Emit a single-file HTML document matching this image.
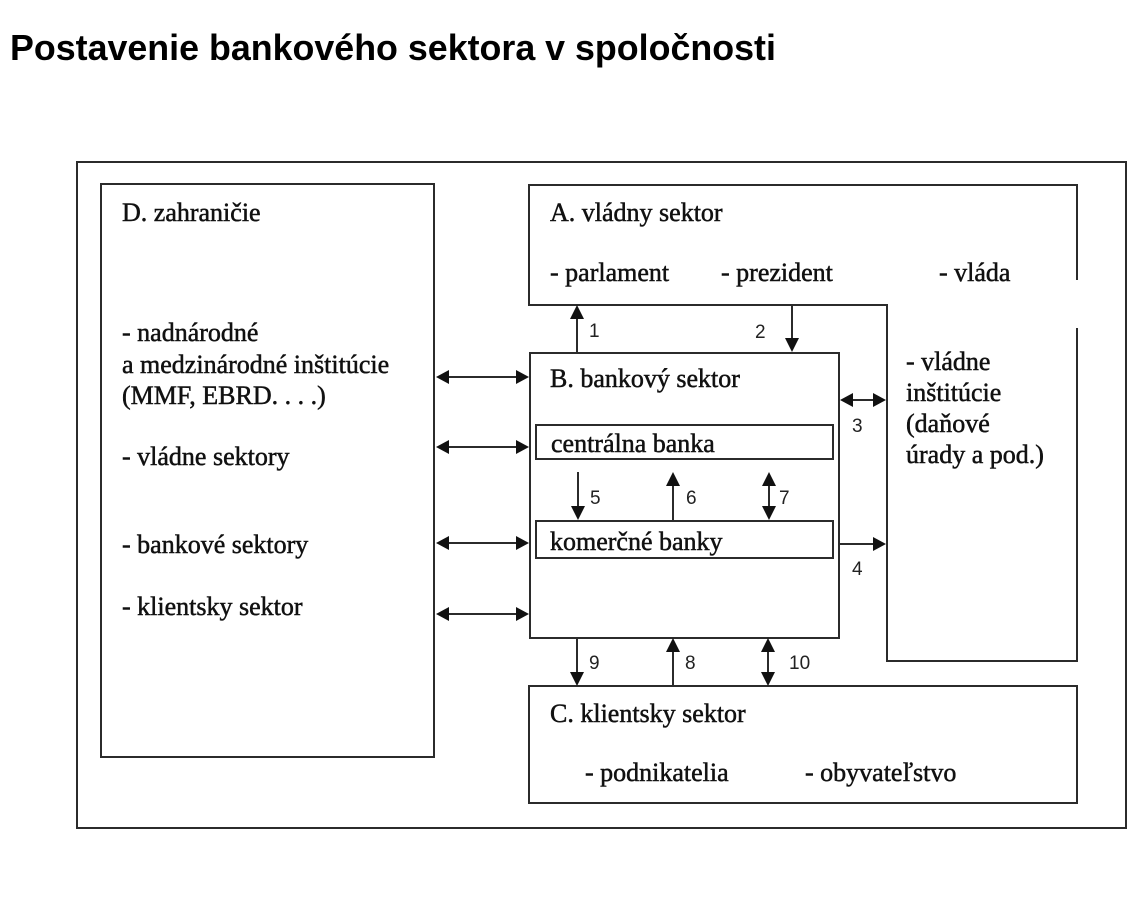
<!DOCTYPE html>
<html>
<head>
<meta charset="utf-8">
<style>
  html,body{margin:0;padding:0;background:#fff;}
  body{width:1142px;height:902px;overflow:hidden;}
  svg{display:block;}
  .t{font-family:"Liberation Serif","DejaVu Serif",serif;font-size:26px;fill:#111;stroke:#111;stroke-width:0.5;}
  .n{font-family:"Liberation Sans","DejaVu Sans",sans-serif;font-size:19px;fill:#222;}
  .title{font-family:"Liberation Sans","DejaVu Sans",sans-serif;font-size:35.8px;font-weight:bold;fill:#000;}
  .l{stroke:#2b2b2b;stroke-width:2;fill:none;}
  .h{fill:#111;stroke:none;}
</style>
</head>
<body>
<svg width="1142" height="902" viewBox="0 0 1142 902" xmlns="http://www.w3.org/2000/svg">
  <text class="title" x="10" y="60">Postavenie bankového sektora v spoločnosti</text>

  <!-- outer frame -->
  <rect class="l" x="77" y="162" width="1049" height="666"/>
  <!-- D box -->
  <rect class="l" x="101" y="184" width="333" height="573"/>
  <!-- A shape -->
  <path class="l" d="M1077,280 V185 H529 V305 H887 V661 H1077 V328"/>
  <!-- B box -->
  <rect class="l" x="530" y="353" width="309" height="285"/>
  <rect class="l" x="536" y="425" width="297" height="34"/>
  <rect class="l" x="536" y="521" width="297" height="37"/>
  <!-- C box -->
  <rect class="l" x="529" y="686" width="548" height="117"/>

  <!-- arrow 1 up -->
  <line class="l" x1="577" y1="353" x2="577" y2="316"/>
  <polygon class="h" points="577,305 570,319 584,319"/>
  <!-- arrow 2 down -->
  <line class="l" x1="792" y1="305" x2="792" y2="341"/>
  <polygon class="h" points="792,352 785,338 799,338"/>
  <!-- arrow 3 double -->
  <line class="l" x1="850" y1="400" x2="876" y2="400"/>
  <polygon class="h" points="840,400 853,393 853,407"/>
  <polygon class="h" points="886,400 873,393 873,407"/>
  <!-- arrow 4 -->
  <line class="l" x1="839" y1="544" x2="876" y2="544"/>
  <polygon class="h" points="886,544 873,537 873,551"/>

  <!-- left double arrows -->
  <g>
    <line class="l" x1="446" y1="377" x2="518" y2="377"/>
    <polygon class="h" points="436,377 449,370 449,384"/>
    <polygon class="h" points="529,377 516,370 516,384"/>
    <line class="l" x1="446" y1="447" x2="518" y2="447"/>
    <polygon class="h" points="436,447 449,440 449,454"/>
    <polygon class="h" points="529,447 516,440 516,454"/>
    <line class="l" x1="446" y1="543" x2="518" y2="543"/>
    <polygon class="h" points="436,543 449,536 449,550"/>
    <polygon class="h" points="529,543 516,536 516,550"/>
    <line class="l" x1="446" y1="614" x2="518" y2="614"/>
    <polygon class="h" points="436,614 449,607 449,621"/>
    <polygon class="h" points="529,614 516,607 516,621"/>
  </g>

  <!-- arrow 5 down -->
  <line class="l" x1="578" y1="472" x2="578" y2="508"/>
  <polygon class="h" points="578,520 571,506 585,506"/>
  <!-- arrow 6 up -->
  <line class="l" x1="673" y1="521" x2="673" y2="484"/>
  <polygon class="h" points="673,472 666,486 680,486"/>
  <!-- arrow 7 double -->
  <line class="l" x1="769" y1="484" x2="769" y2="508"/>
  <polygon class="h" points="769,472 762,486 776,486"/>
  <polygon class="h" points="769,520 762,506 776,506"/>

  <!-- arrow 9 down -->
  <line class="l" x1="577" y1="638" x2="577" y2="674"/>
  <polygon class="h" points="577,686 570,672 584,672"/>
  <!-- arrow 8 up -->
  <line class="l" x1="673" y1="686" x2="673" y2="650"/>
  <polygon class="h" points="673,638 666,652 680,652"/>
  <!-- arrow 10 double -->
  <line class="l" x1="768" y1="650" x2="768" y2="674"/>
  <polygon class="h" points="768,638 761,652 775,652"/>
  <polygon class="h" points="768,686 761,672 775,672"/>

  <!-- number labels -->
  <text class="n" x="589" y="337">1</text>
  <text class="n" x="755" y="338">2</text>
  <text class="n" x="852" y="432">3</text>
  <text class="n" x="852" y="575">4</text>
  <text class="n" x="590" y="504">5</text>
  <text class="n" x="686" y="504">6</text>
  <text class="n" x="779" y="504">7</text>
  <text class="n" x="685" y="669">8</text>
  <text class="n" x="589" y="669">9</text>
  <text class="n" x="789" y="669">10</text>

  <!-- D texts -->
  <text class="t" x="122" y="221">D. zahraničie</text>
  <text class="t" x="122" y="341">- nadnárodné</text>
  <text class="t" x="122" y="373">a medzinárodné inštitúcie</text>
  <text class="t" x="122" y="404">(MMF, EBRD. . . .)</text>
  <text class="t" x="122" y="465">- vládne sektory</text>
  <text class="t" x="122" y="553">- bankové sektory</text>
  <text class="t" x="122" y="615">- klientsky sektor</text>

  <!-- A texts -->
  <text class="t" x="550" y="221">A. vládny sektor</text>
  <text class="t" x="550" y="281">- parlament</text>
  <text class="t" x="721" y="281">- prezident</text>
  <text class="t" x="939" y="281">- vláda</text>
  <text class="t" x="906" y="370">- vládne</text>
  <text class="t" x="906" y="401">inštitúcie</text>
  <text class="t" x="906" y="432">(daňové</text>
  <text class="t" x="906" y="463">úrady a pod.)</text>

  <!-- B texts -->
  <text class="t" x="550" y="387">B. bankový sektor</text>
  <text class="t" x="551" y="452">centrálna banka</text>
  <text class="t" x="550" y="550">komerčné banky</text>

  <!-- C texts -->
  <text class="t" x="550" y="722">C. klientsky sektor</text>
  <text class="t" x="585" y="781">- podnikatelia</text>
  <text class="t" x="805" y="781">- obyvateľstvo</text>
</svg>
</body>
</html>
